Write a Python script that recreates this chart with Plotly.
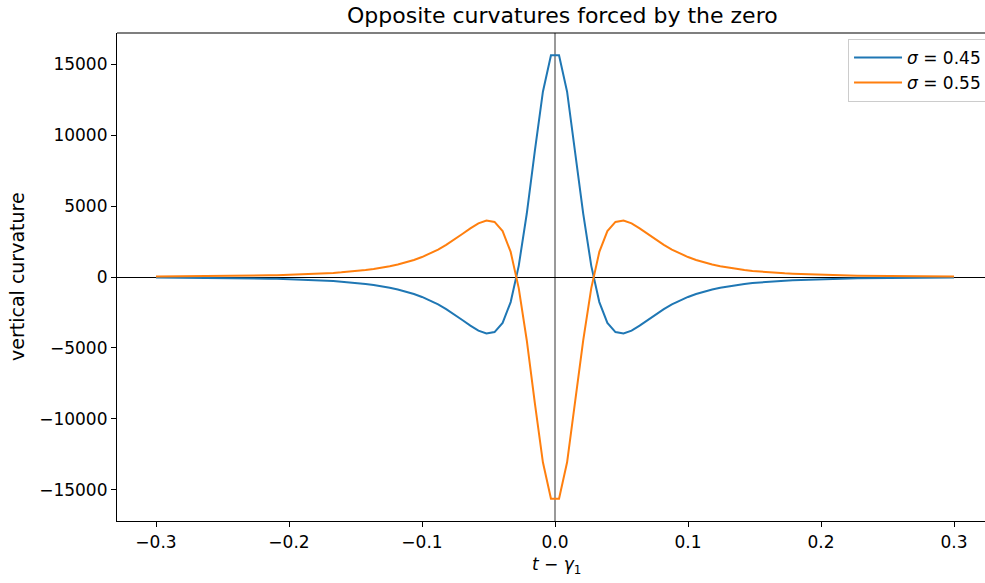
import plotly.graph_objects as go

t_vals = [-0.3, -0.29394, -0.28788, -0.28182, -0.27576, -0.2697, -0.26364, -0.25758, -0.25152, -0.24545,
          -0.23939, -0.23333, -0.22727, -0.22121, -0.21515, -0.20909, -0.20303, -0.19697, -0.19091, -0.18485,
          -0.17879, -0.17273, -0.16667, -0.16061, -0.15455, -0.14848, -0.14242, -0.13636, -0.1303, -0.12424,
          -0.11818, -0.11212, -0.10606, -0.1, -0.09394, -0.08788, -0.08182, -0.07576, -0.0697, -0.06364,
          -0.05758, -0.05152, -0.04545, -0.03939, -0.03333, -0.02727, -0.02121, -0.01515, -0.00909, -0.00303,
          0.00303, 0.00909, 0.01515, 0.02121, 0.02727, 0.03333, 0.03939, 0.04545, 0.05152, 0.05758,
          0.06364, 0.0697, 0.07576, 0.08182, 0.08788, 0.09394, 0.1, 0.10606, 0.11212, 0.11818,
          0.12424, 0.1303, 0.13636, 0.14242, 0.14848, 0.15455, 0.16061, 0.16667, 0.17273, 0.17879,
          0.18485, 0.19091, 0.19697, 0.20303, 0.20909, 0.21515, 0.22121, 0.22727, 0.23333, 0.23939,
          0.24545, 0.25152, 0.25758, 0.26364, 0.2697, 0.27576, 0.28182, 0.28788, 0.29394, 0.3]

curv_045 = [-34, -37, -40, -43, -47, -51, -55, -60, -66, -72,
            -79, -87, -96, -106, -117, -130, -145, -162, -181, -203,
            -228, -257, -291, -331, -377, -430, -493, -568, -655, -759,
            -882, -1029, -1202, -1408, -1651, -1935, -2262, -2631, -3031, -3434,
            -3786, -3990, -3885, -3240, -1770, 787, 4480, 8907, 13073, 15651,
            15651, 13073, 8907, 4480, 787, -1770, -3240, -3885, -3990, -3786,
            -3434, -3031, -2631, -2262, -1935, -1651, -1408, -1202, -1029, -882,
            -759, -655, -568, -493, -430, -377, -331, -291, -257, -228,
            -203, -181, -162, -145, -130, -117, -106, -96, -87, -79,
            -72, -66, -60, -55, -51, -47, -43, -40, -37, -34]

curv_055 = [34, 37, 40, 43, 47, 51, 55, 60, 66, 72,
            79, 87, 96, 106, 117, 130, 145, 162, 181, 203,
            228, 257, 291, 331, 377, 430, 493, 568, 655, 759,
            882, 1029, 1202, 1408, 1651, 1935, 2262, 2631, 3031, 3434,
            3786, 3990, 3885, 3240, 1770, -787, -4480, -8907, -13073, -15651,
            -15651, -13073, -8907, -4480, -787, 1770, 3240, 3885, 3990, 3786,
            3434, 3031, 2631, 2262, 1935, 1651, 1408, 1202, 1029, 882,
            759, 655, 568, 493, 430, 377, 331, 291, 257, 228,
            203, 181, 162, 145, 130, 117, 106, 96, 87, 79,
            72, 66, 60, 55, 51, 47, 43, 40, 37, 34]

x_tickvals = [-0.3, -0.2, -0.1, 0.0, 0.1, 0.2, 0.3]
x_ticktext = ["−0.3", "−0.2", "−0.1", "0.0", "0.1", "0.2", "0.3"]
y_tickvals = [-15000, -10000, -5000, 0, 5000, 10000, 15000]
y_ticktext = ["−15000", "−10000", "−5000", "0", "5000", "10000", "15000"]

FONT = "DejaVu Sans"
TICK = 17
LABEL = 17

fig = go.Figure()
fig.add_trace(go.Scatter(x=t_vals, y=curv_045, mode="lines", name="<i>σ</i> = 0.45",
                         line=dict(color="#1f77b4", width=2)))
fig.add_trace(go.Scatter(x=t_vals, y=curv_055, mode="lines", name="<i>σ</i> = 0.55",
                         line=dict(color="#ff7f0e", width=2)))

fig.update_layout(
    width=985, height=583,
    margin=dict(l=117, r=0, t=33, b=62, autoexpand=False),
    paper_bgcolor="white", plot_bgcolor="white",
    font=dict(family=FONT, size=TICK, color="black"),
    showlegend=True,
    legend=dict(x=0.8422, y=0.988, xanchor="left", yanchor="top", itemwidth=48,
                bgcolor="rgba(255,255,255,0.8)", bordercolor="#cccccc", borderwidth=1,
                font=dict(family=FONT, size=LABEL, color="black")),
    xaxis=dict(range=[-0.32932, 0.32331], tickvals=x_tickvals, ticktext=x_ticktext,
               automargin=False, tickfont=dict(size=TICK),
               showgrid=False, showline=True, linecolor="black", linewidth=1.2, mirror=False,
               ticks="outside", ticklen=5, tickwidth=1.2, tickcolor="black",
               zeroline=True, zerolinecolor="#999999", zerolinewidth=1.5),
    yaxis=dict(range=[-17216, 17216], tickvals=y_tickvals, ticktext=y_ticktext,
               automargin=False, tickfont=dict(size=TICK),
               showgrid=False, showline=True, linecolor="black", linewidth=1.2, mirror=False,
               ticks="outside", ticklen=5, tickwidth=1.2, tickcolor="black",
               zeroline=True, zerolinecolor="black", zerolinewidth=1),
)

# top spine
fig.add_shape(type="line", xref="paper", yref="paper", x0=0, x1=1, y0=1, y1=1,
              line=dict(color="black", width=1.2))

# title
fig.add_annotation(text="Opposite curvatures forced by the zero", xref="paper", yref="paper",
                   x=0.5127, y=1, yshift=18, xanchor="center", yanchor="middle",
                   showarrow=False, font=dict(family=FONT, size=22, color="black"))
# x label
fig.add_annotation(text="<i>t</i> − <i>γ</i><sub>1</sub>", xref="paper", yref="paper",
                   x=0.5058, y=0, yshift=-44, xanchor="center", yanchor="middle",
                   showarrow=False, font=dict(family=FONT, size=LABEL, color="black"))
# y label
fig.add_annotation(text="vertical curvature", xref="paper", yref="paper",
                   x=0, xshift=-100, y=0.5, xanchor="center", yanchor="middle", textangle=-90,
                   showarrow=False, font=dict(family=FONT, size=19, color="black"))

fig.write_html("out.html", config={"displayModeBar": False},
               post_script="document.body.style.margin='0';document.body.style.overflow='hidden';")
